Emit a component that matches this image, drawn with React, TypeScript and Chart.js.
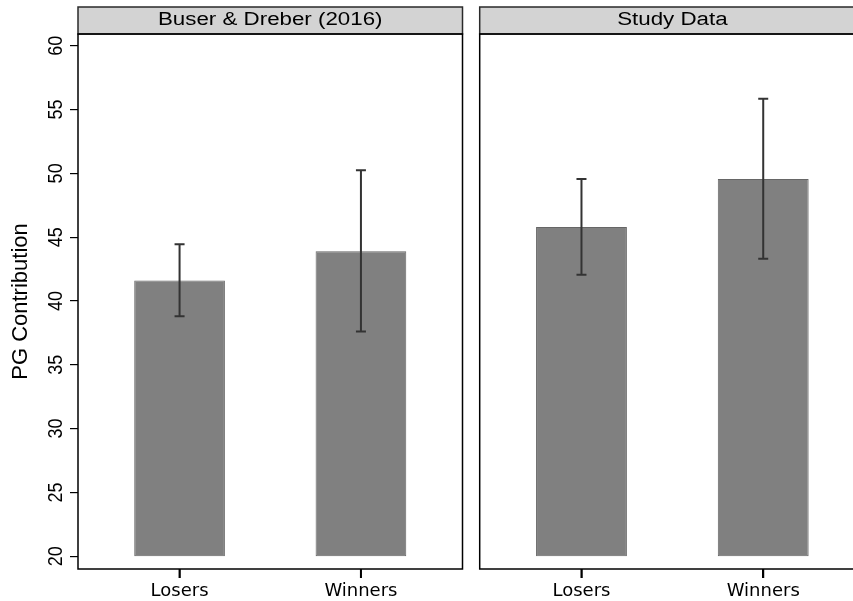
import React, { useEffect, useRef } from "react";
import { Chart, registerables } from "chart.js";

Chart.register(...registerables);

// ---------- data ----------
const categories = ["Losers", "Winners"];
const categoryPositions = [1, 2];
const panelTitles = ["Buser & Dreber (2016)", "Study Data"];

const buserMeans = [41.6, 43.9];
const buserLower = [38.8, 37.6];
const buserUpper = [44.45, 50.25];

const studyMeans = [45.8, 49.55];
const studyLower = [42.05, 43.3];
const studyUpper = [49.55, 55.85];

const yTickValues = [20, 25, 30, 35, 40, 45, 50, 55, 60];
const barBase = 20;
const yMin = 19.0;
const yMax = 60.92;
const xMin = 0.44;
const xMax = 2.56;
const yTitle = "PG Contribution";

// ---------- helpers ----------
const SANS = "'Liberation Sans', Arial, Helvetica, sans-serif";
const HEADER_TOP = 7;

function stretchedText(
  ctx: CanvasRenderingContext2D,
  text: string,
  x: number,
  y: number,
  font: string,
  sx: number,
  rot: number,
  baseline: CanvasTextBaseline
) {
  ctx.save();
  ctx.translate(x, y);
  ctx.scale(sx, 1);
  if (rot) ctx.rotate(rot);
  ctx.font = font;
  ctx.textAlign = "center";
  ctx.textBaseline = baseline;
  ctx.fillStyle = "#000";
  ctx.fillText(text, 0, 0);
  ctx.restore();
}

function makeConfig(
  title: string,
  means: number[],
  lower: number[],
  upper: number[],
  isLeft: boolean
): any {
  const panelPlugin = {
    id: "panel",
    afterDatasetsDraw(chart: any) {
      const ctx = chart.ctx as CanvasRenderingContext2D;
      const xs = chart.scales.x;
      const ys = chart.scales.y;
      // error bars
      ctx.save();
      ctx.strokeStyle = "#333333";
      ctx.lineWidth = 2;
      for (let i = 0; i < means.length; i++) {
        const px = xs.getPixelForValue(categoryPositions[i]);
        const pLo = ys.getPixelForValue(lower[i]);
        const pHi = ys.getPixelForValue(upper[i]);
        ctx.beginPath();
        ctx.moveTo(px, pLo);
        ctx.lineTo(px, pHi);
        ctx.moveTo(px - 5, pLo);
        ctx.lineTo(px + 5, pLo);
        ctx.moveTo(px - 5, pHi);
        ctx.lineTo(px + 5, pHi);
        ctx.stroke();
      }
      ctx.restore();
    },
    afterDraw(chart: any) {
      const ctx = chart.ctx as CanvasRenderingContext2D;
      const a = chart.chartArea;
      const xs = chart.scales.x;
      // header strip
      ctx.save();
      ctx.fillStyle = "#d3d3d3";
      ctx.fillRect(a.left, HEADER_TOP, a.right - a.left, a.top - HEADER_TOP);
      ctx.strokeStyle = "#2a2a2a";
      ctx.lineWidth = 1.5;
      ctx.strokeRect(a.left, HEADER_TOP, a.right - a.left, a.top - HEADER_TOP);
      ctx.restore();
      stretchedText(ctx, title, (a.left + a.right) / 2, 25, `18px ${SANS}`, 1.24, 0, "alphabetic");
      // box
      ctx.save();
      ctx.strokeStyle = "#000";
      ctx.lineWidth = 1.5;
      ctx.strokeRect(a.left, a.top, a.right - a.left, a.bottom - a.top);
      ctx.restore();
      // x tick marks
      ctx.save();
      ctx.fillStyle = "#000";
      for (const p of categoryPositions) {
        const px = xs.getPixelForValue(p);
        ctx.fillRect(px - 1, a.bottom, 2, 9);
      }
      ctx.restore();
      // y tick labels
      if (isLeft) {
        const ys = chart.scales.y;
        for (const v of yTickValues) {
          const py = ys.getPixelForValue(v);
          stretchedText(ctx, String(v), 62, py, `18px ${SANS}`, 1.17, -Math.PI / 2, "alphabetic");
        }
      }
    },
  };

  return {
    type: "bar",
    data: {
      datasets: [
        {
          label: title,
          data: categoryPositions.map((p, i) => ({ x: p, y: [barBase, means[i]] })),
          backgroundColor: "#808080",
          borderColor: "#666666",
          borderWidth: 1,
          borderSkipped: false,
          barPercentage: 0.5,
          categoryPercentage: 1,
        },
      ],
    },
    options: {
      responsive: false,
      animation: false,
      devicePixelRatio: 1,
      layout: {
        padding: isLeft
          ? { left: 0, right: 7.5, top: 34, bottom: 0 }
          : { left: 9.7, right: 5, top: 34, bottom: 0 },
      },
      plugins: {
        legend: { display: false },
        tooltip: { enabled: false },
        title: { display: false },
      },
      scales: {
        x: {
          type: "linear",
          min: xMin,
          max: xMax,
          offset: false,
          grid: {
            display: true,
            offset: false,
            drawOnChartArea: false,
            drawTicks: true,
            tickLength: 9,
            color: "#000",
            lineWidth: 1.5,
          },
          border: { display: false },
          afterBuildTicks(scale: any) {
            scale.ticks = categoryPositions.map((v) => ({ value: v }));
          },
          afterFit(scale: any) {
            scale.height = 32;
          },
          ticks: {
            autoSkip: false,
            maxRotation: 0,
            minRotation: 0,
            padding: 3,
            color: "#000",
            font: { family: "'DejaVu Sans', sans-serif", size: 18 },
            callback: (v: any) => {
              const idx = categoryPositions.indexOf(Number(v));
              return idx >= 0 ? categories[idx] : "";
            },
          },
        },
        y: {
          type: "linear",
          display: isLeft,
          min: yMin,
          max: yMax,
          grid: {
            display: true,
            offset: false,
            drawOnChartArea: false,
            drawTicks: true,
            tickLength: 8,
            color: "#000",
            lineWidth: 1.2,
          },
          border: { display: false },
          afterBuildTicks(scale: any) {
            scale.ticks = yTickValues.map((v) => ({ value: v }));
          },
          afterFit(scale: any) {
            scale.width = isLeft ? 78 : 0;
          },
          ticks: { display: false },
          title: {
            display: true,
            text: yTitle,
            color: "#000",
            font: { family: SANS, size: 22 },
            padding: { top: 8, bottom: 0 },
          },
        },
      },
    },
    plugins: [panelPlugin],
  };
}

export default function App() {
  const leftRef = useRef<HTMLCanvasElement | null>(null);
  const rightRef = useRef<HTMLCanvasElement | null>(null);

  useEffect(() => {
    const charts: Chart[] = [];
    if (leftRef.current) {
      charts.push(
        new Chart(leftRef.current, makeConfig(panelTitles[0], buserMeans, buserLower, buserUpper, true))
      );
    }
    if (rightRef.current) {
      charts.push(
        new Chart(rightRef.current, makeConfig(panelTitles[1], studyMeans, studyLower, studyUpper, false))
      );
    }
    return () => charts.forEach((c) => c.destroy());
  }, []);

  return (
    <div
      style={{
        position: "fixed",
        left: 0,
        top: 0,
        width: 853,
        height: 601,
        overflow: "hidden",
        background: "#fff",
      }}
    >
      <canvas
        ref={leftRef}
        width={470}
        height={601}
        style={{ position: "absolute", left: 0, top: 0, width: 470, height: 601 }}
      />
      <canvas
        ref={rightRef}
        width={400}
        height={601}
        style={{ position: "absolute", left: 470, top: 0, width: 400, height: 601 }}
      />
    </div>
  );
}
